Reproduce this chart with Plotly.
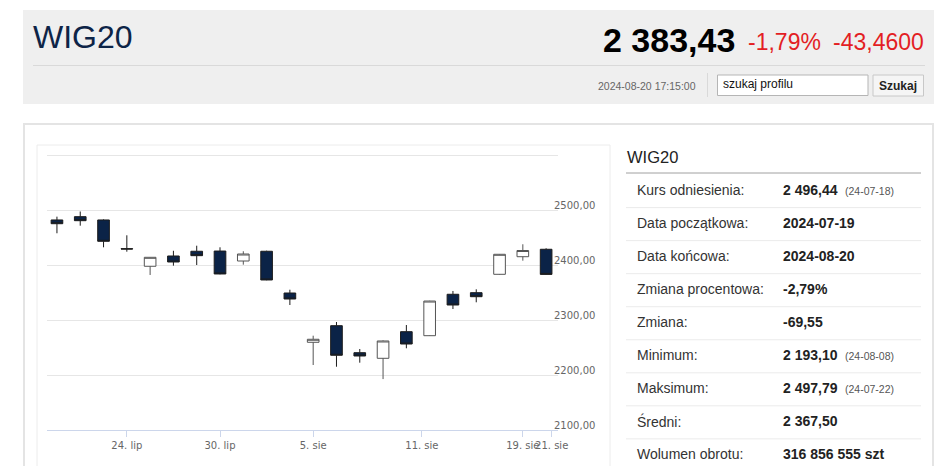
import numpy as np
import pandas as pd
import plotly.graph_objects as go

# ---------------- data ----------------
dates = ["2024-07-19", "2024-07-22", "2024-07-23", "2024-07-24", "2024-07-25",
         "2024-07-26", "2024-07-29", "2024-07-30", "2024-07-31", "2024-08-01",
         "2024-08-02", "2024-08-05", "2024-08-06", "2024-08-07", "2024-08-08",
         "2024-08-09", "2024-08-12", "2024-08-13", "2024-08-14", "2024-08-16",
         "2024-08-19", "2024-08-20"]
open_ = [2482.4, 2488.4, 2482.4, 2430.2, 2398.2, 2416.9, 2425.5, 2425.9, 2407.8, 2425.5,
         2349.6, 2260.0, 2290.2, 2241.1, 2230.9, 2279.3, 2272.0, 2347.3, 2350.2, 2383.6,
         2415.6, 2429.1]
high = [2488.4, 2497.79, 2483.5, 2454.5, 2414.8, 2426.4, 2435.6, 2432.7, 2425.5, 2426.5,
        2355.6, 2272.0, 2296.9, 2247.8, 2263.5, 2291.4, 2335.5, 2353.3, 2356.3, 2420.5,
        2438.2, 2430.9]
low = [2458.2, 2472.0, 2432.7, 2424.7, 2382.4, 2399.3, 2400.5, 2383.6, 2401.1, 2372.8,
       2327.8, 2218.7, 2215.6, 2222.9, 2193.10, 2249.1, 2271.5, 2320.5, 2332.7, 2383.0,
       2408.4, 2383.0]
close = [2475.6, 2481.1, 2443.6, 2429.6, 2414.5, 2406.0, 2417.5, 2384.2, 2420.5, 2373.3,
         2338.7, 2265.5, 2236.4, 2235.1, 2262.4, 2256.9, 2335.0, 2327.8, 2342.9, 2420.0,
         2426.89, 2383.43]

tick_dates = ["2024-07-24", "2024-07-30", "2024-08-05", "2024-08-11", "2024-08-19", "2024-08-21"]
tick_labels = ["24. lip", "30. lip", "5. sie", "11. sie", "19. sie", "21. sie"]

y_ticks = [2100, 2200, 2300, 2400, 2500, 2600]
y_tick_labels = ["2100,00", "2200,00", "2300,00", "2400,00", "2500,00", ""]

title = "WIG20"
last_price = "2 383,43"
pct_change = "-1,79%"
abs_change = "-43,4600"
timestamp = "2024-08-20 17:15:00"
search_placeholder = "szukaj profilu"
search_button = "Szukaj"

row_labels = ["Kurs odniesienia:", "Data początkowa:", "Data końcowa:", "Zmiana procentowa:",
              "Zmiana:", "Minimum:", "Maksimum:", "Średni:", "Wolumen obrotu:"]
row_values = ["2 496,44", "2024-07-19", "2024-08-20", "-2,79%", "-69,55",
              "2 193,10", "2 497,79", "2 367,50", "316 856 555 szt"]
row_notes = ["(24-07-18)", "", "", "", "", "(24-08-08)", "(24-07-22)", "", ""]

# ---------------- geometry helpers ----------------
# page is 948x474; the browser's default 8px body margin surrounds the figure
PAGE_MARGIN = 8
W, H = 948 - 2 * PAGE_MARGIN, 474 - 2 * PAGE_MARGIN
def X(px):
    return (px - PAGE_MARGIN) / W
def Y(py):
    return 1 - (py - PAGE_MARGIN) / H

# ordinal x positions (trading-day index)
idx = np.arange(len(dates))
day_num = pd.to_datetime(pd.Series(dates)).map(pd.Timestamp.toordinal).to_numpy()
EXT_DAYS_PER_STEP = 4.2
def ordinal_pos(d):
    n = pd.Timestamp(d).toordinal()
    if n <= day_num[-1]:
        return float(np.interp(n, day_num, idx))
    return idx[-1] + (n - day_num[-1]) / EXT_DAYS_PER_STEP
tick_pos = [ordinal_pos(d) for d in tick_dates]

fig = go.Figure()
fig.add_trace(go.Candlestick(
    x=idx, open=open_, high=high, low=low, close=close,
    increasing=dict(fillcolor="#ffffff", line=dict(color="#555555", width=1)),
    decreasing=dict(fillcolor="#0b2347", line=dict(color="#1c1c1c", width=1)),
    whiskerwidth=0, hoverinfo="skip", showlegend=False,
))

FONT_CHART = "DejaVu Sans"
FONT = "Liberation Sans, Arial, sans-serif"

fig.update_layout(
    width=W, height=H,
    margin=dict(l=0, r=0, t=0, b=0, pad=0, autoexpand=False),
    paper_bgcolor="#ffffff", plot_bgcolor="rgba(0,0,0,0)",
    boxgap=0.5, boxgroupgap=0,
    xaxis=dict(
        domain=[X(46.7), X(558)], range=[-0.44, 21.51], automargin=False,
        rangeslider=dict(visible=False), showgrid=False, zeroline=False,
        showline=True, linecolor="#ccd6eb", linewidth=1,
        ticks="outside", ticklen=6, tickcolor="#ccd6eb", tickwidth=1,
        tickvals=tick_pos, ticktext=tick_labels, tickangle=0,
        tickfont=dict(family=FONT_CHART, size=10, color="#666666"),
        fixedrange=True,
    ),
    yaxis=dict(
        domain=[Y(430.3), Y(150)], range=[2100, 2609.6], automargin=False,
        side="right", showgrid=True, gridcolor="#e6e6e6", gridwidth=1,
        zeroline=False, showline=False, ticks="",
        tickvals=y_ticks, ticktext=y_tick_labels,
        tickfont=dict(family=FONT_CHART, size=10, color="#666666"),
        ticklabelshift=-5, ticklabelstandoff=-5,
        fixedrange=True,
    ),
)

shapes = []
def rect(x0, y0, x1, y1, fill, line=None, lw=0, layer="below"):
    shapes.append(dict(type="rect", xref="paper", yref="paper",
                       x0=X(x0), x1=X(x1), y0=Y(y1), y1=Y(y0),
                       fillcolor=fill, line=dict(color=line or fill, width=lw), layer=layer))
def hline(x0, x1, y, color, lw=1):
    shapes.append(dict(type="line", xref="paper", yref="paper",
                       x0=X(x0), x1=X(x1), y0=Y(y), y1=Y(y),
                       line=dict(color=color, width=lw), layer="below"))
def vline(x, y0, y1, color, lw=1):
    shapes.append(dict(type="line", xref="paper", yref="paper",
                       x0=X(x), x1=X(x), y0=Y(y0), y1=Y(y1),
                       line=dict(color=color, width=lw), layer="below"))

# banner
rect(23, 10, 934, 104, "#efefef")
hline(33, 925, 65.5, "#d9d9d9")
vline(707.5, 73, 97, "#d9d9d9")
rect(717.5, 75, 868, 95.5, "#ffffff", "#b5b5b5", 1)
rect(873, 75, 923.5, 96, "#f5f5f5", "#c8c8c8", 1)
# lower panel
rect(24, 124, 933, 490, "#ffffff", "#e4e4e4", 2)
rect(37, 145, 610, 490, "rgba(0,0,0,0)", "#ececec", 1)
# right table
hline(626, 921, 173, "#a0a0a0")
row_center0, row_step = 190.0, 33.04
for i in range(len(row_labels)):
    hline(626, 921, row_center0 + row_step * i + 17.6, "#ebebeb")

annotations = []
def text(x, y, s, size, color="#333", family=FONT, xanchor="left", bold=False):
    annotations.append(dict(xref="paper", yref="paper", x=X(x), y=Y(y), text=(f"<b>{s}</b>" if bold else s),
                            showarrow=False, xanchor=xanchor, yanchor="middle",
                            font=dict(family=family, size=size, color=color)))

text(31, 37.5, title, 32, "#0d2447")
text(737, 40, last_price, 34, "#000000", xanchor="right", bold=True)
text(822.5, 42, pct_change, 23, "#e31e24", xanchor="right")
text(926, 42, abs_change, 23, "#e31e24", xanchor="right")
text(698, 86, timestamp, 10.5, "#666666", xanchor="right")
text(721, 84, search_placeholder, 12, "#111111")
text(898, 86, search_button, 12, "#222222", xanchor="center", bold=True)

text(625, 157, title, 16.5, "#222222")
for i, (lab, val, note) in enumerate(zip(row_labels, row_values, row_notes)):
    yc = row_center0 + row_step * i
    text(635, yc, lab, 14, "#333333")
    text(781, yc, val, 14, "#222222", bold=True)
    if note:
        text(843, yc + 0.5, note, 10.5, "#555555")

fig.update_layout(shapes=shapes, annotations=annotations)
fig.write_html("out.html", config={"displayModeBar": False})
